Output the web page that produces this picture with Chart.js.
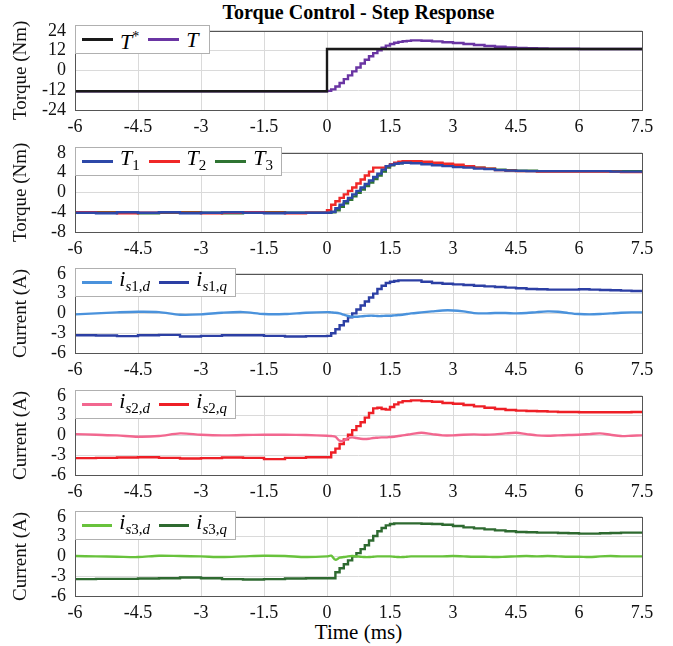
<!DOCTYPE html>
<html>
<head>
<meta charset="utf-8">
<script src="https://cdn.jsdelivr.net/npm/chart.js@4.4.1/dist/chart.umd.min.js"></script>
<style>
	body { margin: 0; background: #fff; }
	#wrap { position: relative; width: 673px; height: 646px; font-family: "Liberation Serif", "Times New Roman", Times, "Nimbus Roman", "Noto Serif", "DejaVu Serif", FreeSerif, serif; }
	canvas { position: absolute; left: 0; }
	.title { position: absolute; left: 75px; width: 567px; top: 0; text-align: center; font-weight: bold; font-size: 20px; line-height: 24px; }
	.xtitle { position: absolute; left: 75px; width: 567px; top: 620px; text-align: center; font-size: 21px; line-height: 24px; }
	.legend { position: absolute; left: 75px; height: 29px; background: #fff; border: 1px solid #b0b0b0; display: flex; align-items: center; padding: 0 8px 0 6px; box-sizing: border-box; font-size: 22px; }
	.legend .sw { display: inline-block; width: 31px; height: 3px; margin-right: 7px; }
	.legend .it { margin-right: 9px; font-style: italic; white-space: nowrap; line-height: 22px; }
	.legend .it:last-child { margin-right: 0; }
	.legend sub { font-size: 15px; vertical-align: -5px; font-style: normal; }
	.legend sub i { font-style: italic; }
	.legend sup { font-size: 14px; vertical-align: 8px; font-style: normal; }
</style>
</head>
<body>
<div id="wrap">
	<div class="title">Torque Control - Step Response</div>
	<div class="xtitle">Time (ms)</div>
</div>
<script>
// shared time base (ms)
const time = [-6, -5.5, -5, -4.5, -4, -3.5, -3, -2.5, -2, -1.5, -1, -0.5, 0,
	0.1, 0.2, 0.3, 0.4, 0.5, 0.6, 0.7, 0.8, 0.9, 1.0, 1.1, 1.2, 1.3, 1.4, 1.5, 1.6, 1.7, 1.8, 1.9, 2.0,
	2.25, 2.5, 2.75, 3.0, 3.25, 3.5, 3.75, 4.0, 4.25, 4.5, 4.75, 5.0, 5.25, 5.5, 5.75, 6.0, 6.25, 6.5, 6.75, 7.0, 7.25, 7.5];

const xTicks = [-6, -4.5, -3, -1.5, 0, 1.5, 3, 4.5, 6, 7.5];

// panel 1: torque reference and total torque
const torqueRef = [-12.6, -12.6, -12.6, -12.6, -12.6, -12.6, -12.6, -12.6, -12.6, -12.6, -12.6, -12.6, -12.6,
	13, 13, 13, 13, 13, 13, 13, 13, 13, 13, 13, 13, 13, 13, 13, 13, 13, 13, 13, 13,
	13, 13, 13, 13, 13, 13, 13, 13, 13, 13, 13, 13, 13, 13, 13, 13, 13, 13, 13, 13, 13, 13];
const torqueTotal = [-12.6, -12.7, -12.6, -12.6, -12.7, -12.6, -12.6, -12.7, -12.6, -12.6, -12.7, -12.6, -12.6,
	-12.4, -11.5, -9.8, -7.6, -5.3, -3.0, -0.6, 1.8, 4.2, 6.5, 8.6, 10.5, 12.2, 13.7, 15.0, 16.0, 16.8, 17.3, 17.7, 17.9,
	18.2, 18.0, 17.6, 17.1, 16.6, 16.0, 15.4, 14.8, 14.3, 13.9, 13.6, 13.4, 13.3, 13.2, 13.1, 13.1, 13.0, 13.0, 13.0, 13.0, 13.0, 13.0];

// panel 2: per-motor torque
const torque1 = [-4.0, -4.1, -4.2, -4.0, -4.1, -4.0, -4.2, -4.1, -4.0, -4.1, -4.2, -4.1, -4.1,
	-4.1, -3.9, -3.2, -2.5, -1.8, -1.1, -0.4, 0.3, 1.0, 1.7, 2.4, 3.1, 3.8, 4.6, 5.3, 5.6, 5.8, 5.9, 6.0, 6.0,
	5.9, 5.7, 5.5, 5.3, 5.1, 5.0, 4.8, 4.7, 4.5, 4.4, 4.35, 4.3, 4.3, 4.3, 4.3, 4.3, 4.3, 4.3, 4.3, 4.2, 4.2, 4.2];
const torque2 = [-4.1, -4.0, -4.1, -4.2, -4.1, -4.0, -4.1, -4.2, -4.1, -4.0, -4.1, -4.2, -4.1,
	-3.6, -2.5, -1.8, -1.1, -0.4, 0.3, 1.0, 1.8, 2.6, 3.4, 4.2, 5.0, 5.0, 5.0, 5.3, 5.7, 6.0, 6.2, 6.3, 6.3,
	6.3, 6.2, 6.0, 5.8, 5.6, 5.3, 5.0, 4.8, 4.5, 4.4, 4.3, 4.3, 4.2, 4.2, 4.2, 4.2, 4.2, 4.2, 4.2, 4.2, 4.1, 4.1];
const torque3 = [-4.2, -4.1, -4.0, -4.1, -4.2, -4.1, -4.0, -4.1, -4.2, -4.1, -4.0, -4.1, -4.1,
	-4.1, -4.0, -3.6, -2.9, -2.2, -1.5, -0.8, -0.1, 0.6, 1.3, 2.0, 2.7, 3.4, 4.2, 5.0, 5.5, 5.8, 5.9, 6.0, 6.0,
	6.0, 5.9, 5.8, 5.6, 5.4, 5.2, 5.0, 4.8, 4.6, 4.5, 4.4, 4.4, 4.3, 4.3, 4.3, 4.3, 4.3, 4.3, 4.3, 4.3, 4.3, 4.3];

// panels 3-5: d/q currents
const id1 = [-0.15, 0.0, 0.15, 0.25, 0.2, -0.2, -0.15, 0.1, 0.2, -0.1, -0.1, 0.1, 0.2,
	0.15, 0.1, 0.0, -0.2, -0.4, -0.5, -0.5, -0.45, -0.4, -0.35, -0.35, -0.4, -0.4, -0.35, -0.35, -0.3, -0.25, -0.2, -0.1, 0.0,
	0.15, 0.3, 0.45, 0.45, 0.3, 0.05, 0.0, 0.05, 0.05, 0.0, 0.05, 0.2, 0.3, 0.25, 0.05, -0.1, -0.15, -0.1, 0.0, 0.1, 0.15, 0.15];
const iq1 = [-3.2, -3.3, -3.35, -3.45, -3.3, -3.25, -3.5, -3.4, -3.3, -3.3, -3.4, -3.5, -3.45,
	-3.4, -3.0, -2.4, -1.8, -1.2, -0.6, 0.0, 0.6, 1.2, 1.8, 2.4, 3.0, 3.7, 4.2, 4.6, 4.8, 4.9, 5.0, 5.0, 5.0,
	5.0, 4.8, 4.6, 4.5, 4.4, 4.3, 4.2, 4.1, 4.0, 3.9, 3.8, 3.7, 3.65, 3.6, 3.6, 3.6, 3.65, 3.6, 3.55, 3.5, 3.45, 3.4];
const id2 = [0.2, 0.1, 0.0, -0.2, -0.1, 0.3, 0.1, 0.0, 0.05, 0.1, 0.1, 0.05, -0.05,
	-0.1, -0.2, -0.8, -0.8, -0.4, -0.3, -0.4, -0.5, -0.55, -0.5, -0.4, -0.35, -0.3, -0.3, -0.25, -0.2, -0.1, 0.0, 0.1, 0.2,
	0.4, 0.2, 0.0, 0.0, 0.1, 0.15, 0.1, 0.15, 0.3, 0.4, 0.2, 0.0, -0.05, 0.0, 0.05, 0.1, 0.2, 0.3, 0.1, -0.1, -0.05, 0.0];
const iq2 = [-3.5, -3.45, -3.4, -3.35, -3.3, -3.4, -3.5, -3.45, -3.35, -3.4, -3.6, -3.4, -3.3,
	-3.3, -2.6, -2.0, -1.3, -0.6, 0.1, 0.8, 1.4, 2.0, 2.7, 3.4, 4.1, 4.2, 4.0, 3.9, 4.3, 4.7, 5.0, 5.2, 5.2,
	5.3, 5.2, 5.1, 4.9, 4.8, 4.6, 4.4, 4.2, 4.0, 3.85, 3.75, 3.7, 3.65, 3.6, 3.55, 3.55, 3.5, 3.5, 3.5, 3.5, 3.5, 3.55];
const id3 = [0.05, 0.0, -0.05, -0.1, 0.1, 0.05, 0.0, -0.1, 0.0, 0.1, 0.05, -0.1, 0.0,
	0.1, -0.5, -0.2, -0.1, 0.0, 0.05, 0.0, -0.05, -0.1, -0.1, -0.05, 0.0, 0.0, 0.0, 0.0, -0.05, -0.1, -0.1, -0.05, 0.0,
	0.0, 0.0, 0.0, 0.05, 0.0, -0.05, -0.05, -0.1, -0.05, 0.0, 0.05, 0.0, 0.05, 0.0, -0.05, -0.05, -0.1, 0.0, 0.05, 0.0, 0.0, 0.0];
const iq3 = [-3.5, -3.45, -3.4, -3.4, -3.35, -3.3, -3.2, -3.3, -3.45, -3.5, -3.45, -3.35, -3.3,
	-3.3, -3.3, -2.4, -1.8, -1.2, -0.6, 0.0, 0.5, 1.1, 1.7, 2.4, 3.1, 3.8, 4.3, 4.7, 4.9, 5.0, 5.0, 5.0, 5.0,
	5.0, 4.95, 4.9, 4.8, 4.6, 4.4, 4.25, 4.1, 3.95, 3.8, 3.7, 3.65, 3.6, 3.6, 3.55, 3.5, 3.45, 3.45, 3.5, 3.55, 3.6, 3.6];

const torqueTicks = [-24, -12, 0, 12, 24];
const motorTicks = [-8, -4, 0, 4, 8];
const currentTicks = [-6, -3, 0, 3, 6];

const panels = [
	{ top: 23, yTitle: "Torque (Nm)", yTicks: torqueTicks, legendW: 135,
		series: [
			{ label: "T<sup>*</sup>", data: torqueRef, color: "#1a1a1a", stepped: true },
			{ label: "T", data: torqueTotal, color: "#6a35a3", stepped: true },
		] },
	{ top: 145, yTitle: "Torque (Nm)", yTicks: motorTicks, legendW: 207,
		series: [
			{ label: "T<sub>1</sub>", data: torque1, color: "#2d48a8", stepped: true },
			{ label: "T<sub>2</sub>", data: torque2, color: "#f02828", stepped: true },
			{ label: "T<sub>3</sub>", data: torque3, color: "#2f7432", stepped: true },
		] },
	{ top: 266, yTitle: "Current (A)", yTicks: currentTicks, legendW: 161,
		series: [
			{ label: "i<sub><i>s</i>1,<i>d</i></sub>", data: id1, color: "#4a92dc", stepped: false },
			{ label: "i<sub><i>s</i>1,<i>q</i></sub>", data: iq1, color: "#2c3fa4", stepped: true },
		] },
	{ top: 388, yTitle: "Current (A)", yTicks: currentTicks, legendW: 161,
		series: [
			{ label: "i<sub><i>s</i>2,<i>d</i></sub>", data: id2, color: "#f2678f", stepped: false },
			{ label: "i<sub><i>s</i>2,<i>q</i></sub>", data: iq2, color: "#ee1f26", stepped: true },
		] },
	{ top: 509, yTitle: "Current (A)", yTicks: currentTicks, legendW: 161,
		series: [
			{ label: "i<sub><i>s</i>3,<i>d</i></sub>", data: id3, color: "#68c23c", stepped: false },
			{ label: "i<sub><i>s</i>3,<i>q</i></sub>", data: iq3, color: "#2e6a30", stepped: true },
		] },
];

const PLOT_H = 87;
const PAD_TOP = 12;
const X_AXIS_H = 28;
const wrap = document.getElementById("wrap");
const font = { family: "'Liberation Serif', 'Times New Roman', Times, 'Nimbus Roman', 'Noto Serif', 'DejaVu Serif', FreeSerif, serif", size: 18 };

const boxPlugin = {
	id: "box",
	afterDraw(chart) {
		const a = chart.chartArea;
		const ctx = chart.ctx;
		ctx.save();
		ctx.strokeStyle = "#555";
		ctx.lineWidth = 1;
		ctx.strokeRect(Math.round(a.left) + 0.5, Math.round(a.top) + 0.5, Math.round(a.right - a.left), Math.round(a.bottom - a.top));
		ctx.restore();
	},
};

panels.forEach((p) => {
	const canvas = document.createElement("canvas");
	canvas.width = 673;
	canvas.height = PAD_TOP + PLOT_H + X_AXIS_H;
	canvas.style.top = (p.top - PAD_TOP) + "px";
	wrap.appendChild(canvas);

	new Chart(canvas.getContext("2d"), {
		type: "line",
		data: {
			datasets: p.series.map((s) => ({
				data: time.map((t, i) => ({ x: t, y: s.data[i] })),
				borderColor: s.color,
				borderWidth: 2.4,
				pointRadius: 0,
				stepped: s.stepped ? "after" : false,
				tension: s.stepped ? 0 : 0.3,
				fill: false,
			})),
		},
		options: {
			responsive: false,
			animation: false,
			devicePixelRatio: 1,
			layout: { padding: { top: PAD_TOP, right: 31, left: 0, bottom: 0 } },
			plugins: { legend: { display: false }, tooltip: { enabled: false } },
			scales: {
				x: {
					type: "linear",
					min: -6,
					max: 7.5,
					afterBuildTicks: (s) => { s.ticks = xTicks.map((v) => ({ value: v })); },
					afterFit: (s) => { s.height = X_AXIS_H; },
					ticks: { font, color: "#111", padding: 6, maxRotation: 0, autoSkip: false },
					grid: { color: "#dadada", drawTicks: false },
					border: { display: false },
				},
				y: {
					min: p.yTicks[0],
					max: p.yTicks[p.yTicks.length - 1],
					afterBuildTicks: (s) => { s.ticks = p.yTicks.map((v) => ({ value: v })); },
					afterFit: (s) => { s.width = 75; },
					ticks: { font, color: "#111", padding: 9, autoSkip: false },
					grid: { color: "#dadada", drawTicks: false },
					border: { display: false },
					title: { display: true, text: p.yTitle, font: { family: font.family, size: 19 }, color: "#111", padding: { top: 10, bottom: 0 } },
				},
			},
		},
		plugins: [boxPlugin],
	});

	// legend box inside the top-left corner of the plot
	const lg = document.createElement("div");
	lg.className = "legend";
	lg.style.top = (p.top + 2) + "px";
	lg.style.width = p.legendW + "px";
	p.series.forEach((s) => {
		const sw = document.createElement("span");
		sw.className = "sw";
		sw.style.background = s.color;
		const tx = document.createElement("span");
		tx.className = "it";
		tx.innerHTML = s.label;
		lg.appendChild(sw);
		lg.appendChild(tx);
	});
	wrap.appendChild(lg);
});
</script>
</body>
</html>
